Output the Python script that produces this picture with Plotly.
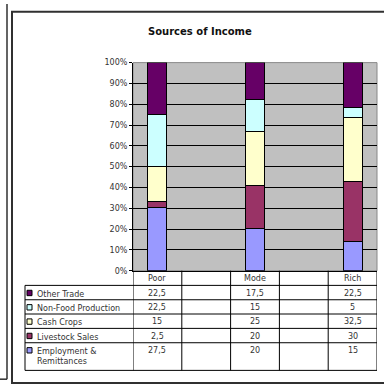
import plotly.graph_objects as go

# ---- data -------------------------------------------------------------
table_columns = ["Poor", "", "Mode", "", "Rich"]     # category slots on the x axis
groups = ["Poor", "Mode", "Rich"]

series_names = ["Other Trade", "Non-Food Production", "Cash Crops",
                "Livestock Sales", "Employment &<br>Remittances"]
other_trade = [22.5, 17.5, 22.5]
non_food_production = [22.5, 15, 5]
cash_crops = [15, 25, 32.5]
livestock_sales = [2.5, 20, 30]
employment_remittances = [27.5, 20, 15]

series_values = [other_trade, non_food_production, cash_crops,
                 livestock_sales, employment_remittances]
series_colors = ["#660066", "#CCFFFF", "#FFFFCC", "#993366", "#9999FF"]

y_ticks = [0, 10, 20, 30, 40, 50, 60, 70, 80, 90, 100]
y_tick_labels = [f"{t}%" for t in y_ticks]

# ---- geometry helpers (pixel -> paper) ---------------------------------
W, H = 384, 392


def px(x):
    return x / W


def py(y):
    return 1 - y / H


PLOT_L, PLOT_R, PLOT_T, PLOT_B = 133, 377, 60, 273
TABLE_L = 25
ROW_TOPS = [288, 302.7, 317.3, 332, 346.7]
TABLE_B = 375
TXT = "#333333"
FONT = "DejaVu Sans"

group_pos = [table_columns.index(g) for g in groups]

fig = go.Figure()

# stacked columns, bottom series first
for name, vals, col in reversed(list(zip(series_names, series_values, series_colors))):
    fig.add_trace(go.Bar(
        x=group_pos, y=vals, name=name.replace("<br>", " "),
        width=0.39, marker=dict(color=col, line=dict(color="black", width=1)),
        showlegend=False,
    ))

shapes = []
annotations = []

# outer frames
shapes.append(dict(type="line", xref="paper", yref="paper",
                   x0=px(7), x1=px(7), y0=py(0), y1=py(384),
                   line=dict(color="#303030", width=1.5)))
shapes.append(dict(type="line", xref="paper", yref="paper",
                   x0=px(0), x1=px(7), y0=py(384), y1=py(384),
                   line=dict(color="#303030", width=1.5)))
shapes.append(dict(type="rect", xref="paper", yref="paper",
                   x0=px(12), x1=px(390), y0=py(388), y1=py(8),
                   line=dict(color="#303030", width=2)))

# plot area border (light)
shapes.append(dict(type="rect", xref="paper", yref="paper", layer="below",
                   x0=px(PLOT_L), x1=px(PLOT_R), y0=py(PLOT_B), y1=py(PLOT_T),
                   line=dict(color="#888888", width=1)))

# data table: vertical column boundaries on the category axis
for k in range(len(table_columns) + 1):
    shapes.append(dict(type="line", xref="x", yref="paper",
                       x0=k - 0.5, x1=k - 0.5, y0=py(PLOT_B), y1=py(TABLE_B),
                       line=dict(color="black", width=1)))
# left border of the label column
shapes.append(dict(type="line", xref="paper", yref="paper",
                   x0=px(TABLE_L), x1=px(TABLE_L), y0=py(ROW_TOPS[0]), y1=py(TABLE_B),
                   line=dict(color="black", width=1)))
# horizontal row lines
for yv in ROW_TOPS + [TABLE_B]:
    shapes.append(dict(type="line", xref="paper", yref="paper",
                       x0=px(TABLE_L), x1=px(PLOT_R), y0=py(yv), y1=py(yv),
                       line=dict(color="black", width=1)))

# header row: category names
for k, c in enumerate(table_columns):
    if c:
        annotations.append(dict(x=k, y=py((PLOT_B + ROW_TOPS[0]) / 2), xref="x", yref="paper",
                                text=c, showarrow=False, xanchor="center", yanchor="middle",
                                font=dict(family=FONT, size=8, color=TXT)))

# series rows: legend key, label and values
for r, (name, vals, col) in enumerate(zip(series_names, series_values, series_colors)):
    top = ROW_TOPS[r]
    shapes.append(dict(type="rect", xref="paper", yref="paper",
                       x0=px(27), x1=px(32), y0=py(top + 10.5), y1=py(top + 5),
                       fillcolor=col, line=dict(color="black", width=1)))
    annotations.append(dict(x=px(35), y=py(top + 2.5), xref="paper", yref="paper",
                            text=name, showarrow=False, xanchor="left", yanchor="top",
                            align="left",
                            font=dict(family=FONT, size=8, color=TXT)))
    for g, v in zip(group_pos, vals):
        annotations.append(dict(x=g, y=py(top + 1.5), xref="x", yref="paper",
                                text=f"{v:g}".replace(".", ","), showarrow=False,
                                xanchor="center", yanchor="top",
                                font=dict(family=FONT, size=8, color=TXT)))

# chart title
annotations.append(dict(x=px(199.5), y=py(28), xref="paper", yref="paper",
                        text="<b>Sources of Income</b>", showarrow=False,
                        xanchor="center", yanchor="middle",
                        font=dict(family=FONT, size=10, color="#111111")))

fig.update_layout(
    width=W, height=H, autosize=False,
    margin=dict(l=0, r=0, t=0, b=0, pad=0),
    paper_bgcolor="white", plot_bgcolor="#C0C0C0",
    barmode="stack", barnorm="percent",
    shapes=shapes, annotations=annotations,
    xaxis=dict(domain=[px(PLOT_L), px(PLOT_R)], range=[-0.5, len(table_columns) - 0.5],
               showticklabels=False, showgrid=False, zeroline=False,
               showline=True, linecolor="black", linewidth=1, ticks="", fixedrange=True),
    yaxis=dict(domain=[py(PLOT_B), py(PLOT_T)], range=[0, 100],
               tickmode="array", tickvals=y_ticks, ticktext=y_tick_labels,
               showgrid=True, gridcolor="black", gridwidth=1, zeroline=False,
               showline=True, linecolor="black", linewidth=1,
               ticks="outside", ticklen=3, tickcolor="black",
               tickfont=dict(family=FONT, size=8, color=TXT), fixedrange=True),
)

fig.write_html("out.html")
